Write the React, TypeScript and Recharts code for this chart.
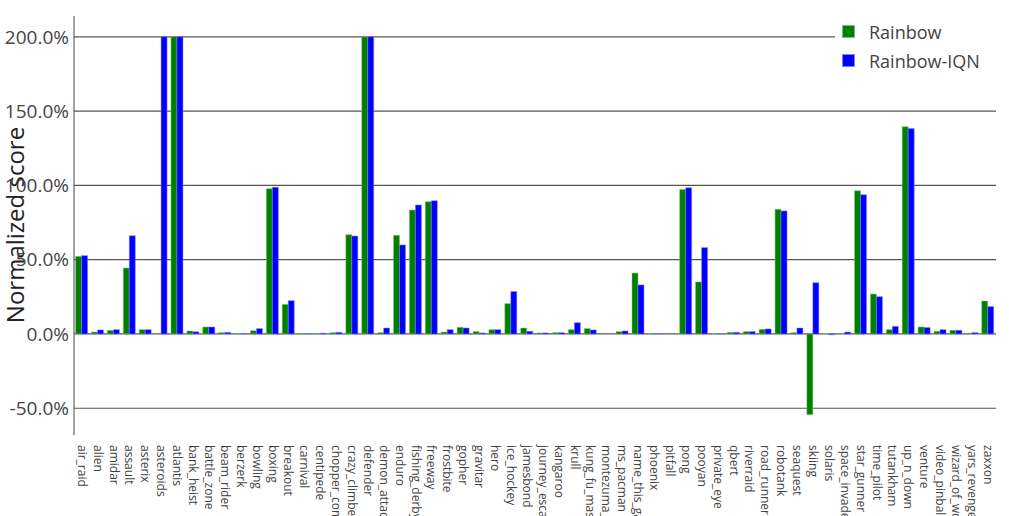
import React from 'react'
import { BarChart, Bar, XAxis, YAxis, CartesianGrid } from 'recharts'

const GAMES = [
  'air_raid', 'alien', 'amidar', 'assault', 'asterix', 'asteroids', 'atlantis', 'bank_heist',
  'battle_zone', 'beam_rider', 'berzerk', 'bowling', 'boxing', 'breakout', 'carnival', 'centipede',
  'chopper_command', 'crazy_climber', 'defender', 'demon_attack', 'enduro', 'fishing_derby',
  'freeway', 'frostbite', 'gopher', 'gravitar', 'hero', 'ice_hockey', 'jamesbond', 'journey_escape',
  'kangaroo', 'krull', 'kung_fu_master', 'montezuma_revenge', 'ms_pacman', 'name_this_game',
  'phoenix', 'pitfall', 'pong', 'pooyan', 'private_eye', 'qbert', 'riverraid', 'road_runner',
  'robotank', 'seaquest', 'skiing', 'solaris', 'space_invaders', 'star_gunner', 'time_pilot',
  'tutankham', 'up_n_down', 'venture', 'video_pinball', 'wizard_of_wor', 'yars_revenge', 'zaxxon'
]

// normalized scores, 1.0 = 100% (capped at 200%)
const RAINBOW = [
  0.522, 0.013, 0.024, 0.444, 0.029, 0.0, 2.0, 0.02,
  0.047, 0.009, 0.003, 0.022, 0.978, 0.199, 0.002, 0.002,
  0.009, 0.668, 2.0, 0.009, 0.664, 0.834,
  0.89, 0.013, 0.045, 0.016, 0.029, 0.204, 0.04, 0.007,
  0.009, 0.029, 0.036, 0.0, 0.016, 0.41,
  0.001, 0.0, 0.973, 0.35, 0.001, 0.011, 0.016, 0.031,
  0.839, 0.009, -0.543, 0.001, 0.003, 0.964, 0.269,
  0.029, 1.395, 0.047, 0.018, 0.025, 0.005, 0.222
]

const RAINBOW_IQN = [
  0.527, 0.027, 0.029, 0.661, 0.029, 2.0, 2.0, 0.015,
  0.047, 0.011, 0.003, 0.036, 0.987, 0.224, 0.001, 0.005,
  0.011, 0.659, 2.0, 0.04, 0.599, 0.868,
  0.897, 0.029, 0.04, 0.007, 0.029, 0.285, 0.018, 0.007,
  0.009, 0.076, 0.027, 0.0, 0.02, 0.33,
  0.001, 0.0, 0.984, 0.581, 0.001, 0.011, 0.016, 0.034,
  0.828, 0.04, 0.345, -0.005, 0.013, 0.937, 0.251,
  0.051, 1.382, 0.043, 0.029, 0.025, 0.009, 0.184
]

const Y_TICKS = [-0.5, 0, 0.5, 1, 1.5, 2]

const SERIES = [
  { key: 'rainbow', name: 'Rainbow', color: '#008000', edge: '#80c080' },
  { key: 'iqn', name: 'Rainbow-IQN', color: '#0000ff', edge: '#8080ff' }
]

const data = GAMES.map((g, i) => ({ game: g, rainbow: RAINBOW[i], iqn: RAINBOW_IQN[i] }))

const FONT = '"Open Sans", "Noto Sans", sans-serif'

// game names rotated downwards; long ones run off the bottom like the original
const GameTick = ({ x, y, payload }: any) => (
  <text
    transform={`translate(${x},${y + 10}) rotate(90)`}
    textAnchor="start"
    dy="0.35em"
    fontSize={12}
    fontFamily={FONT}
    fill="#444"
  >
    {payload.value}
  </text>
)

const YLabel = () => (
  <text
    transform="translate(16,225) rotate(-90)"
    textAnchor="middle"
    dy="0.35em"
    fontSize={24}
    fontFamily={FONT}
    fill="#222"
  >
    Normalized score
  </text>
)

export default function App() {
  return (
    <div style={{ position: 'absolute', left: 0, top: 0, width: 1009, height: 516, background: '#fff', overflow: 'hidden' }}>
      <BarChart
        width={1009}
        height={516}
        data={data}
        margin={{ top: 16, right: 13, left: 0, bottom: 0 }}
        barCategoryGap="10%"
        barGap={0}
      >
        <CartesianGrid vertical={false} horizontalValues={Y_TICKS} stroke="#555" strokeWidth={1.2} />
        <XAxis
          dataKey="game"
          interval={0}
          height={81}
          tick={<GameTick />}
          tickLine={false}
          axisLine={false}
          tickSize={0}
          tickMargin={0}
        />
        <YAxis
          domain={[-0.68, 2.14]}
          ticks={Y_TICKS}
          allowDataOverflow
          width={74}
          tickFormatter={(v: number) => `${(v * 100).toFixed(1)}%`}
          tick={{ fontSize: 19, fill: '#444', fontFamily: FONT }}
          tickLine={false}
          tickSize={0}
          tickMargin={5}
          axisLine={{ stroke: '#444' }}
          label={<YLabel />}
        />
        {SERIES.map(s => (
          <Bar key={s.key} dataKey={s.key} name={s.name} fill={s.color} stroke={s.edge} strokeWidth={0.5} isAnimationActive={false} />
        ))}
      </BarChart>

      {/* legend sits over the plot, white box hides the 200% gridline */}
      <div style={{ position: 'absolute', left: 835, top: 17, width: 165, background: '#fff', fontFamily: FONT, fontSize: 18, color: '#444', paddingBottom: 4 }}>
        {SERIES.map(s => (
          <div key={s.key} style={{ display: 'flex', alignItems: 'center', height: 29 }}>
            <span style={{ width: 13, height: 13, background: s.color, marginLeft: 7, marginRight: 14, boxSizing: 'border-box', border: `1px solid ${s.edge}` }} />
            {s.name}
          </div>
        ))}
      </div>
    </div>
  )
}
